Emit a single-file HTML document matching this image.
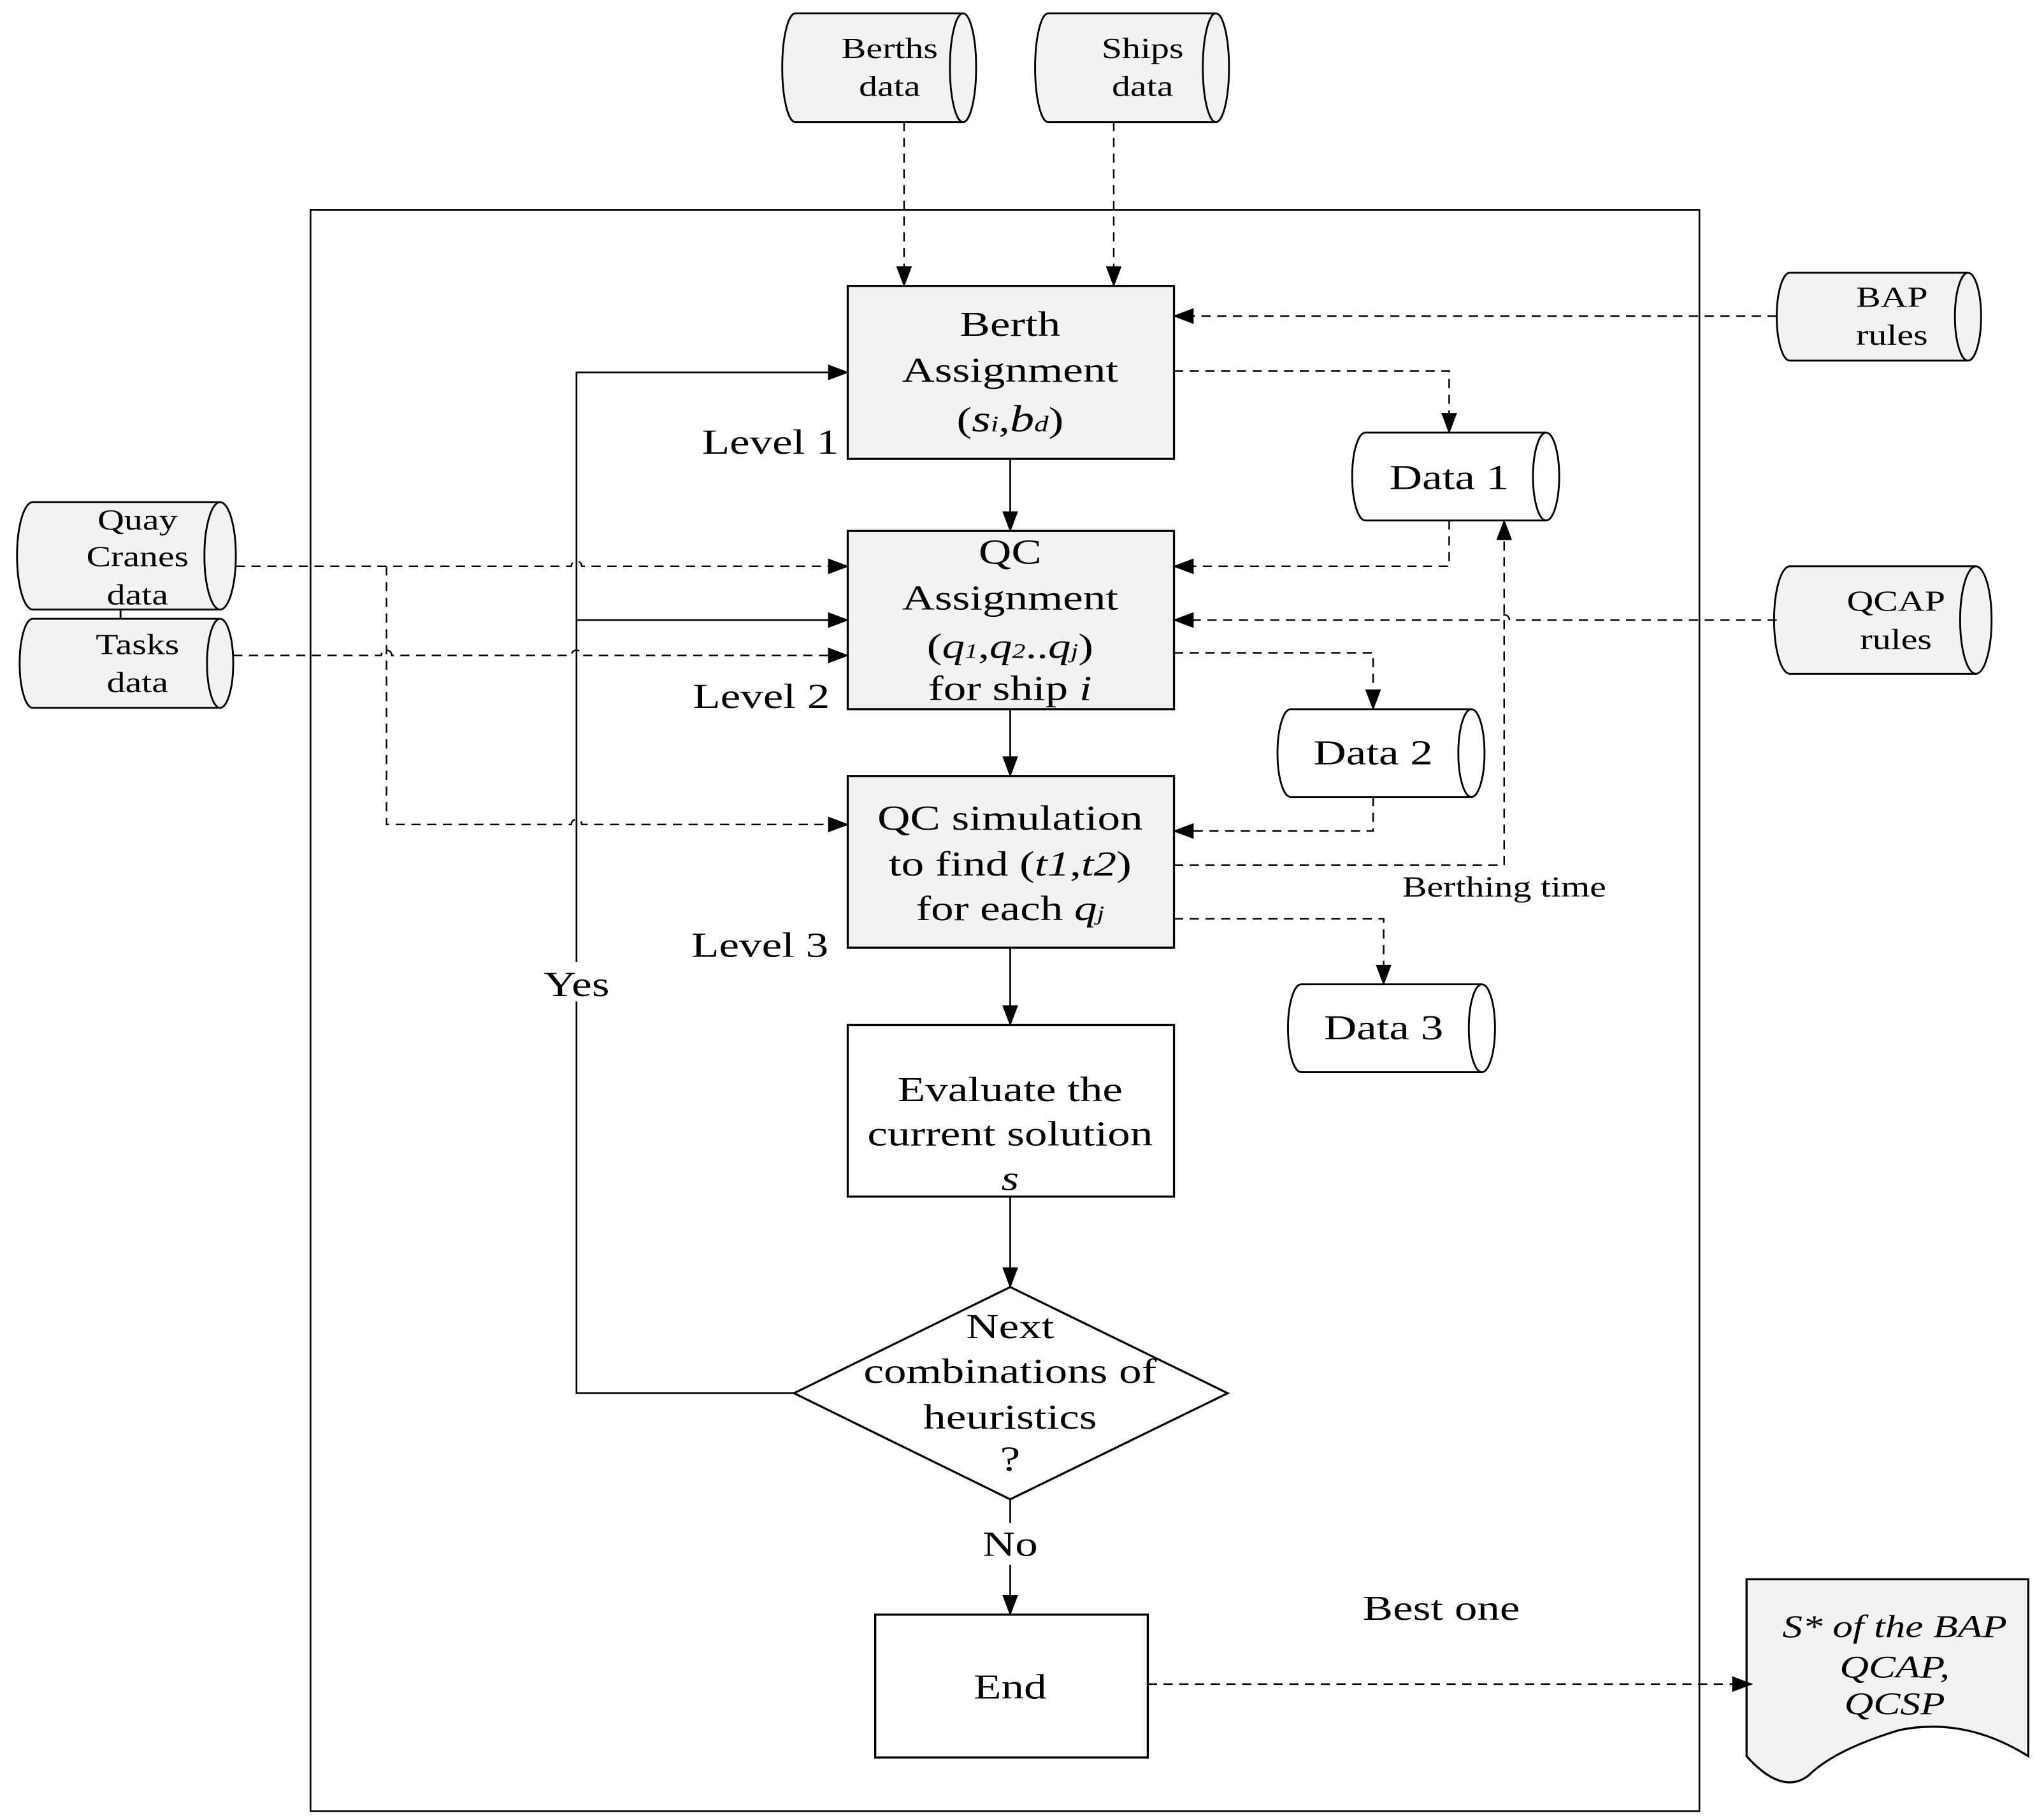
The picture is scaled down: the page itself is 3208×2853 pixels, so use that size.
<!DOCTYPE html>
<html><head><meta charset="utf-8"><style>
html,body{margin:0;padding:0;background:#fff}
svg{display:block}
text{font-family:"Liberation Serif",serif;fill:#000}
</style></head><body>
<svg width="3208" height="2853" viewBox="0 0 1560 1387" xmlns="http://www.w3.org/2000/svg">
<defs>
<marker id="ah" markerWidth="16" markerHeight="12" refX="15" refY="6" orient="auto" markerUnits="userSpaceOnUse">
<path d="M0,0 L16,6 L0,12 Z" fill="#000"/></marker>
</defs>
<g fill="none" stroke="#000" stroke-width="1.3">
<rect x="237" y="160" width="1060" height="1222"/>
</g>

<g stroke="#000" stroke-width="1.4">
<path d="M607,10 L735,10 A10,41.5 0 0 1 735,93 L607,93 A10,41.5 0 0 1 607,10 Z" fill="#f2f2f2"/>
<path d="M735,10 A10,41.5 0 0 0 735,93" fill="none"/>
<path d="M800,10 L928,10 A10,41.5 0 0 1 928,93 L800,93 A10,41.5 0 0 1 800,10 Z" fill="#f2f2f2"/>
<path d="M928,10 A10,41.5 0 0 0 928,93" fill="none"/>
<path d="M1366,208 L1502,208 A10,33.5 0 0 1 1502,275 L1366,275 A10,33.5 0 0 1 1366,208 Z" fill="#f2f2f2"/>
<path d="M1502,208 A10,33.5 0 0 0 1502,275" fill="none"/>
<path d="M1366,432 L1508,432 A12,41 0 0 1 1508,514 L1366,514 A12,41 0 0 1 1366,432 Z" fill="#f2f2f2"/>
<path d="M1508,432 A12,41 0 0 0 1508,514" fill="none"/>
<path d="M25,383 L168,383 A12,41 0 0 1 168,465 L25,465 A12,41 0 0 1 25,383 Z" fill="#f2f2f2"/>
<path d="M168,383 A12,41 0 0 0 168,465" fill="none"/>
<path d="M25,472 L168,472 A10,34 0 0 1 168,540 L25,540 A10,34 0 0 1 25,472 Z" fill="#f2f2f2"/>
<path d="M168,472 A10,34 0 0 0 168,540" fill="none"/>
<line x1="92" y1="465" x2="92" y2="472"/>
<path d="M1042,330 L1180,330 A10,33.5 0 0 1 1180,397 L1042,397 A10,33.5 0 0 1 1042,330 Z" fill="#fff"/>
<path d="M1180,330 A10,33.5 0 0 0 1180,397" fill="none"/>
<path d="M985,541 L1123,541 A10,33.5 0 0 1 1123,608 L985,608 A10,33.5 0 0 1 985,541 Z" fill="#fff"/>
<path d="M1123,541 A10,33.5 0 0 0 1123,608" fill="none"/>
<path d="M993,751 L1131,751 A10,33.5 0 0 1 1131,818 L993,818 A10,33.5 0 0 1 993,751 Z" fill="#fff"/>
<path d="M1131,751 A10,33.5 0 0 0 1131,818" fill="none"/>
<path d="M1333,1205 L1548,1205 L1548,1340 Q1500,1310 1450,1320 Q1400,1335 1380,1355 Q1360,1370 1333,1340 Z" fill="#f2f2f2" stroke-width="1.6"/>
</g>

<g stroke="#000" stroke-width="1.6">
<rect x="647" y="218" width="249" height="132" fill="#f2f2f2"/>
<rect x="647" y="405" width="249" height="136" fill="#f2f2f2"/>
<rect x="647" y="592" width="249" height="131" fill="#f2f2f2"/>
<rect x="647" y="782" width="249" height="131" fill="#fff"/>
<path d="M771,982 L937,1063 L771,1144 L606,1063 Z" fill="#fff"/>
<rect x="668" y="1232" width="208" height="109" fill="#fff"/>
</g>

<g fill="none" stroke="#000" stroke-width="1.3">
<line x1="771" y1="350" x2="771" y2="405" marker-end="url(#ah)"/>
<line x1="771" y1="541" x2="771" y2="592" marker-end="url(#ah)"/>
<line x1="771" y1="723" x2="771" y2="782" marker-end="url(#ah)"/>
<line x1="771" y1="913" x2="771" y2="982" marker-end="url(#ah)"/>
<line x1="771" y1="1144" x2="771" y2="1232" marker-end="url(#ah)"/>
<path d="M606,1063 L440,1063 L440,284 L647,284" marker-end="url(#ah)"/>
<line x1="440" y1="473" x2="647" y2="473" marker-end="url(#ah)"/>
</g>

<g fill="none" stroke="#000" stroke-width="1.2" stroke-dasharray="7,5">
<line x1="690" y1="93" x2="690" y2="218" marker-end="url(#ah)"/>
<line x1="850" y1="93" x2="850" y2="218" marker-end="url(#ah)"/>
<line x1="1356" y1="241" x2="896" y2="241" marker-end="url(#ah)"/>
<path d="M896,283 L1106,283 L1106,330" marker-end="url(#ah)"/>
<path d="M1106,397 L1106,432 L896,432" marker-end="url(#ah)"/>
<path d="M1356,473 L1152,473 A4,4 0 0 0 1144,473 L896,473" marker-end="url(#ah)"/>
<path d="M896,498 L1048,498 L1048,541" marker-end="url(#ah)"/>
<path d="M1048,608 L1048,634 L896,634" marker-end="url(#ah)"/>
<path d="M896,660 L1148,660 L1148,397" marker-end="url(#ah)"/>
<path d="M896,701 L1056,701 L1056,751" marker-end="url(#ah)"/>
<path d="M180,432 L436,432 A4,4 0 0 1 444,432 L647,432" marker-end="url(#ah)"/>
<path d="M295,432 L295,629 L436,629 A4,4 0 0 1 444,629 L647,629" marker-end="url(#ah)"/>
<path d="M178,500 L291,500 A4,4 0 0 1 299,500 L436,500 A4,4 0 0 1 444,500 L647,500" marker-end="url(#ah)"/>
<line x1="876" y1="1285" x2="1337" y2="1285" marker-end="url(#ah)"/>
</g>

<rect x="410" y="734" width="60" height="30" fill="#fff"/>
<rect x="745" y="1162" width="52" height="32" fill="#fff"/>

<g transform="scale(1.28,1)">
<g text-anchor="middle" font-size="22">
<text x="530.5" y="44">Berths</text><text x="530.5" y="73">data</text>
<text x="681.25" y="44">Ships</text><text x="681.25" y="73">data</text>
<text x="1128.1" y="234">BAP</text><text x="1128.1" y="263">rules</text>
<text x="1130.5" y="466">QCAP</text><text x="1130.5" y="495">rules</text>
<text x="82" y="404">Quay</text><text x="82" y="432">Cranes</text><text x="82" y="461">data</text>
<text x="82" y="499">Tasks</text><text x="82" y="528">data</text>
<text x="896.9" y="684">Berthing time</text>
</g>
<g text-anchor="middle" font-size="27">
<text x="864.1" y="373">Data 1</text>
<text x="818.75" y="583">Data 2</text>
<text x="825" y="793">Data 3</text>
<text x="602.3" y="256">Berth</text>
<text x="602.3" y="291">Assignment</text>
<text x="602.3" y="329">(<tspan font-style="italic" font-size="29">s</tspan><tspan font-style="italic" font-size="17">i</tspan>,<tspan font-style="italic" font-size="29">b</tspan><tspan font-style="italic" font-size="17">d</tspan>)</text>
<text x="602.3" y="430">QC</text>
<text x="602.3" y="465">Assignment</text>
<text x="602.3" y="502">(<tspan font-style="italic">q</tspan><tspan font-style="italic" font-size="16">1</tspan>,<tspan font-style="italic">q</tspan><tspan font-style="italic" font-size="16">2</tspan>..<tspan font-style="italic">q</tspan><tspan font-style="italic" font-size="16">j</tspan>)</text>
<text x="602.3" y="534">for ship <tspan font-style="italic">i</tspan></text>
<text x="602.3" y="633">QC simulation</text>
<text x="602.3" y="668">to find (<tspan font-style="italic">t1</tspan>,<tspan font-style="italic">t2</tspan>)</text>
<text x="602.3" y="702">for each <tspan font-style="italic">q</tspan><tspan font-style="italic" font-size="16">j</tspan></text>
<text x="602.3" y="840">Evaluate the</text>
<text x="602.3" y="874">current solution</text>
<text x="602.3" y="908" font-style="italic">s</text>
<text x="602.3" y="1021">Next</text>
<text x="602.3" y="1055">combinations of</text>
<text x="602.3" y="1090">heuristics</text>
<text x="602.3" y="1122">?</text>
<text x="602.3" y="1296">End</text>
<text x="459.4" y="346">Level 1</text>
<text x="453.9" y="540">Level 2</text>
<text x="453.1" y="730">Level 3</text>
<text x="343.75" y="760">Yes</text>
<text x="602.3" y="1187">No</text>
<text x="859.4" y="1236">Best one</text>
</g>
<g text-anchor="middle" font-size="24" font-style="italic">
<text x="1129.7" y="1249">S* of the  BAP</text>
<text x="1129.7" y="1280">QCAP,</text>
<text x="1129.7" y="1308">QCSP</text>
</g>
</g>
</svg>
</body></html>
